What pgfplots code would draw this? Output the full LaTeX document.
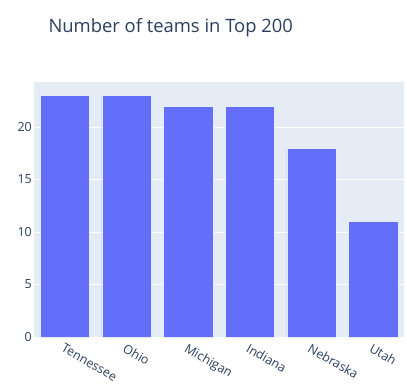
\documentclass[border=0pt]{standalone}
\usepackage{pgfplots}
\pgfplotsset{compat=1.18}
\usepackage{fontspec}
\setmainfont{Open Sans}
\definecolor{bgc}{HTML}{E5ECF6}
\definecolor{barc}{HTML}{636EFA}
\definecolor{txt}{HTML}{2A3F5F}
\begin{document}
\begin{tikzpicture}
\path[use as bounding box] (-34bp,-48bp) rectangle (373bp,337bp);
\begin{axis}[
  at={(0,0)}, anchor=south west,
  scale only axis, width=370bp, height=255bp,
  xmin=-0.5, xmax=5.5, ymin=0, ymax=24.3,
  axis background/.style={fill=bgc},
  axis line style={draw=none},
  major tick length=0pt,
  xtick={0,1,2,3,4,5},
  xticklabels={Tennessee,Ohio,Michigan,Indiana,Nebraska,Utah},
  ytick={0,5,10,15,20},
  ymajorgrids, grid style={white, line width=1bp},
  /pgf/number format/assume math mode=true,
  tick label style={font=\fontsize{12.5bp}{14bp}\selectfont, text=txt},
  xticklabel style={rotate=-30, anchor=north west, inner sep=1bp, xshift=2bp, yshift=-4bp},
  yticklabel style={inner sep=2bp},
  clip=false,
]
\addplot[ybar, bar width=0.8, fill=barc, draw=bgc, line width=0.5bp] coordinates {
(0,23) (1,23) (2,22) (3,22) (4,18) (5,11)
};
\end{axis}
\node[anchor=west, text=txt, font=\fontsize{18.4bp}{21bp}\selectfont] at (11bp,309bp) {Number of teams in Top 200};
\end{tikzpicture}
\end{document}
